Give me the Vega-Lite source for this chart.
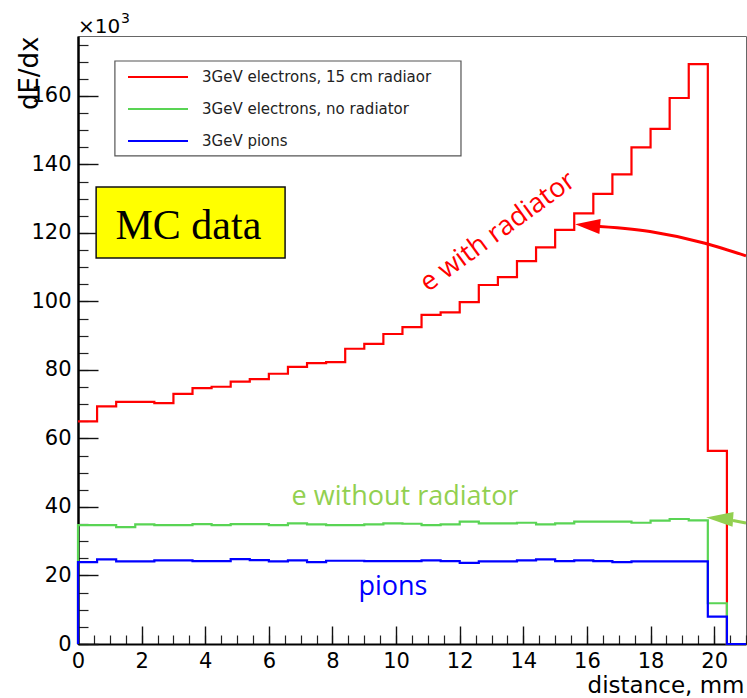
{
  "$schema": "https://vega.github.io/schema/vega-lite/v6.json",
  "width": 668,
  "height": 608,
  "autosize": {"type": "none"},
  "padding": {"left": 78, "top": 36, "right": 1, "bottom": 54},
  "background": "white",
  "config": {
    "view": {"stroke": "#666", "strokeWidth": 1},
    "font": "DejaVu Sans",
    "axis": {"grid": false}
  },
  "datasets": {
    "hist": [
      {"i": -1, "x": 0, "red": null, "green": 0, "blue": 0},
      {"i": 0, "x": 0, "red": 65.0, "green": 34.7, "blue": 23.9},
      {"i": 1, "x": 0.6, "red": 69.4, "green": 34.7, "blue": 24.7},
      {"i": 2, "x": 1.2, "red": 70.7, "green": 34.1, "blue": 24.1},
      {"i": 3, "x": 1.8, "red": 70.7, "green": 34.9, "blue": 24.1},
      {"i": 4, "x": 2.4, "red": 70.3, "green": 34.7, "blue": 24.4},
      {"i": 5, "x": 3.0, "red": 73.0, "green": 34.7, "blue": 24.4},
      {"i": 6, "x": 3.6, "red": 74.7, "green": 35.0, "blue": 24.2},
      {"i": 7, "x": 4.2, "red": 75.1, "green": 34.7, "blue": 24.2},
      {"i": 8, "x": 4.8, "red": 76.6, "green": 35.0, "blue": 24.8},
      {"i": 9, "x": 5.4, "red": 77.3, "green": 35.0, "blue": 24.5},
      {"i": 10, "x": 6.0, "red": 78.9, "green": 34.7, "blue": 24.1},
      {"i": 11, "x": 6.6, "red": 80.9, "green": 35.2, "blue": 24.4},
      {"i": 12, "x": 7.2, "red": 82.0, "green": 34.9, "blue": 23.9},
      {"i": 13, "x": 7.8, "red": 82.3, "green": 34.7, "blue": 24.3},
      {"i": 14, "x": 8.4, "red": 86.2, "green": 34.7, "blue": 24.3},
      {"i": 15, "x": 9.0, "red": 87.6, "green": 34.9, "blue": 24.2},
      {"i": 16, "x": 9.6, "red": 90.5, "green": 35.2, "blue": 24.2},
      {"i": 17, "x": 10.2, "red": 92.5, "green": 35.1, "blue": 24.2},
      {"i": 18, "x": 10.8, "red": 96.1, "green": 34.7, "blue": 24.4},
      {"i": 19, "x": 11.4, "red": 96.8, "green": 34.9, "blue": 24.2},
      {"i": 20, "x": 12.0, "red": 99.8, "green": 35.7, "blue": 23.7},
      {"i": 21, "x": 12.6, "red": 104.8, "green": 35.2, "blue": 24.1},
      {"i": 22, "x": 13.2, "red": 107.1, "green": 35.2, "blue": 24.1},
      {"i": 23, "x": 13.8, "red": 111.8, "green": 35.4, "blue": 24.4},
      {"i": 24, "x": 14.4, "red": 115.8, "green": 34.9, "blue": 24.7},
      {"i": 25, "x": 15.0, "red": 120.9, "green": 35.2, "blue": 24.2},
      {"i": 26, "x": 15.6, "red": 125.7, "green": 35.7, "blue": 24.4},
      {"i": 27, "x": 16.2, "red": 131.4, "green": 35.7, "blue": 24.2},
      {"i": 28, "x": 16.8, "red": 137.1, "green": 35.7, "blue": 23.9},
      {"i": 29, "x": 17.4, "red": 145.0, "green": 35.4, "blue": 24.1},
      {"i": 30, "x": 18.0, "red": 150.4, "green": 36.0, "blue": 24.1},
      {"i": 31, "x": 18.6, "red": 159.4, "green": 36.5, "blue": 24.1},
      {"i": 32, "x": 19.2, "red": 169.3, "green": 36.1, "blue": 24.1},
      {"i": 33, "x": 19.8, "red": 56.4, "green": 11.9, "blue": 8.0},
      {"i": 34, "x": 20.4, "red": 0, "green": 0, "blue": 0},
      {"i": 35, "x": 21.0, "red": 0, "green": 0, "blue": 0}
    ],
    "redArrow": [
      {"x": 16.1, "y": 122.1},
      {"x": 17.98, "y": 120.4},
      {"x": 19.71, "y": 117.0},
      {"x": 21.0, "y": 113.3}
    ],
    "greenArrow": [
      {"x": 20.59, "y": 36.05},
      {"x": 21.0, "y": 35.3}
    ],
    "one": [{}]
  },
  "resolve": {
    "scale": {"x": "shared", "y": "shared"},
    "axis": {"x": "independent", "y": "independent"}
  },
  "layer": [
    {
      "data": {"name": "one"},
      "mark": {"type": "rect", "fill": "white", "stroke": "#555", "strokeWidth": 1.2},
      "encoding": {
        "x": {"datum": 1.16, "type": "quantitative", "scale": {"domain": [0, 21], "nice": false, "zero": false},
              "axis": {"orient": "bottom", "values": [0,0.5,1,1.5,2,2.5,3,3.5,4,4.5,5,5.5,6,6.5,7,7.5,8,8.5,9,9.5,10,10.5,11,11.5,12,12.5,13,13.5,14,14.5,15,15.5,16,16.5,17,17.5,18,18.5,19,19.5,20,20.5,21],
                       "labels": false, "domain": false, "ticks": true, "tickSize": -9, "tickColor": "#222", "tickWidth": 1.2, "title": null, "grid": false}},
        "x2": {"datum": 12.04},
        "y": {"datum": 170.2, "type": "quantitative", "scale": {"domain": [0, 177.5], "nice": false, "zero": false},
              "axis": {"orient": "left", "values": [0,5,10,15,20,25,30,35,40,45,50,55,60,65,70,75,80,85,90,95,100,105,110,115,120,125,130,135,140,145,150,155,160,165,170,175],
                       "labels": false, "domain": false, "ticks": true, "tickSize": -10, "tickColor": "#222", "tickWidth": 1.2, "title": null, "grid": false}},
        "y2": {"datum": 142.5}
      }
    },
    {
      "data": {"name": "one"},
      "mark": {"type": "rect", "fill": "#ffff00", "stroke": "#111", "strokeWidth": 1.5},
      "encoding": {
        "x": {"datum": 0.57, "type": "quantitative",
              "axis": {"orient": "bottom", "values": [0,2,4,6,8,10,12,14,16,18,20], "labels": false, "domain": false, "ticks": true, "tickSize": -18, "tickColor": "#111", "tickWidth": 1.4, "title": null, "grid": false}},
        "x2": {"datum": 6.51},
        "y": {"datum": 133.4, "type": "quantitative",
              "axis": {"orient": "left", "values": [0,20,40,60,80,100,120,140,160], "labels": false, "domain": false, "ticks": true, "tickSize": -20, "tickColor": "#111", "tickWidth": 1.4, "title": null, "grid": false}},
        "y2": {"datum": 112.7}
      }
    },
    {
      "data": {"name": "hist"},
      "transform": [{"fold": ["red", "green", "blue"], "as": ["series", "v"]}],
      "mark": {"type": "line", "interpolate": "step-after", "strokeWidth": 2.2},
      "encoding": {
        "x": {"field": "x", "type": "quantitative",
              "axis": {"orient": "bottom", "values": [0,2,4,6,8,10,12,14,16,18,20], "ticks": false, "domain": true, "domainColor": "#000", "domainWidth": 2,
                       "labels": true, "labelFont": "DejaVu Sans", "labelFontSize": 21, "labelColor": "#000", "labelPadding": 6, "labelFlush": false, "labelOverlap": false,
                       "title": "distance, mm", "titleFont": "DejaVu Sans", "titleFontSize": 23, "titleFontWeight": "normal", "titleColor": "#000",
                       "titleAlign": "right", "titleBaseline": "alphabetic", "titleX": 666, "titleY": 48, "grid": false}},
        "y": {"field": "v", "type": "quantitative",
              "axis": {"orient": "left", "values": [0,20,40,60,80,100,120,140,160], "ticks": false, "domain": true, "domainColor": "#000", "domainWidth": 2.5,
                       "labels": true, "labelFont": "DejaVu Sans", "labelFontSize": 21, "labelColor": "#000", "labelPadding": 7, "labelFlush": false, "labelOverlap": false,
                       "title": "dE/dx", "titleFont": "DejaVu Sans", "titleFontSize": 26, "titleFontWeight": "normal", "titleColor": "#000",
                       "titleAngle": 270, "titleAlign": "right", "titleBaseline": "alphabetic", "titleX": -41, "titleY": 0, "grid": false}},
        "color": {"field": "series", "type": "nominal",
                  "scale": {"domain": ["red", "green", "blue"], "range": ["#ff0000", "#59d454", "#0000ff"]},
                  "legend": {"orient": "none", "legendX": 71.5, "legendY": 32.5, "title": null,
                             "symbolType": "M-4,0H4", "symbolSize": 225, "symbolStrokeWidth": 2,
                             "labelFont": "DejaVu Sans", "labelFontSize": 15, "labelColor": "#222", "labelOffset": 35.5, "labelLimit": 400,
                             "rowPadding": 15,
                             "labelExpr": "datum.label == 'red' ? '3GeV electrons, 15 cm radiaor' : datum.label == 'green' ? '3GeV electrons, no radiator' : '3GeV pions'"}},
        "order": {"field": "i", "type": "quantitative"}
      }
    },
    {
      "data": {"name": "redArrow"},
      "mark": {"type": "line", "interpolate": "monotone", "stroke": "#ff0000", "strokeWidth": 3},
      "encoding": {
        "x": {"field": "x", "type": "quantitative", "axis": null},
        "y": {"field": "y", "type": "quantitative", "axis": null}
      }
    },
    {
      "data": {"name": "one"},
      "mark": {"type": "point", "shape": "M-1,0L1,-0.6L1,0.6Z", "size": 625, "filled": true, "fill": "#ff0000", "opacity": 1, "angle": 5, "strokeWidth": 0},
      "encoding": {
        "x": {"datum": 16.02, "type": "quantitative", "axis": null},
        "y": {"datum": 122.2, "type": "quantitative", "axis": null}
      }
    },
    {
      "data": {"name": "greenArrow"},
      "mark": {"type": "line", "stroke": "#92d050", "strokeWidth": 3},
      "encoding": {
        "x": {"field": "x", "type": "quantitative", "axis": null},
        "y": {"field": "y", "type": "quantitative", "axis": null}
      }
    },
    {
      "data": {"name": "one"},
      "mark": {"type": "point", "shape": "M-1,0L1,-0.55L1,0.55Z", "size": 729, "filled": true, "fill": "#92d050", "opacity": 1, "angle": 4, "strokeWidth": 0},
      "encoding": {
        "x": {"datum": 20.17, "type": "quantitative", "axis": null},
        "y": {"datum": 36.64, "type": "quantitative", "axis": null}
      }
    },
    {
      "data": {"name": "one"},
      "mark": {"type": "text", "text": "MC data", "font": "Liberation Serif", "fontSize": 42, "align": "center", "baseline": "alphabetic", "fill": "#000"},
      "encoding": {
        "x": {"datum": 3.47, "type": "quantitative", "axis": null},
        "y": {"datum": 118.3, "type": "quantitative", "axis": null}
      }
    },
    {
      "data": {"name": "one"},
      "mark": {"type": "text", "text": "e with radiator", "font": "Open Sans", "fontSize": 27, "align": "center", "baseline": "middle", "angle": 324, "fill": "#ff0000"},
      "encoding": {
        "x": {"datum": 13.2, "type": "quantitative", "axis": null},
        "y": {"datum": 120.3, "type": "quantitative", "axis": null}
      }
    },
    {
      "data": {"name": "one"},
      "mark": {"type": "text", "text": "e without radiator", "font": "Open Sans", "fontSize": 27, "align": "center", "baseline": "alphabetic", "fill": "#92d050"},
      "encoding": {
        "x": {"datum": 10.28, "type": "quantitative", "axis": null},
        "y": {"datum": 40.6, "type": "quantitative", "axis": null}
      }
    },
    {
      "data": {"name": "one"},
      "mark": {"type": "text", "text": "pions", "font": "Open Sans", "fontSize": 27, "align": "center", "baseline": "alphabetic", "fill": "#0000ff"},
      "encoding": {
        "x": {"datum": 9.9, "type": "quantitative", "axis": null},
        "y": {"datum": 14.3, "type": "quantitative", "axis": null}
      }
    },
    {
      "data": {"name": "one"},
      "mark": {"type": "text", "text": "×10", "font": "DejaVu Sans", "fontSize": 20, "align": "left", "baseline": "alphabetic", "fill": "#000"},
      "encoding": {
        "x": {"datum": 0, "type": "quantitative", "axis": null},
        "y": {"datum": 178.4, "type": "quantitative", "axis": null}
      }
    },
    {
      "data": {"name": "one"},
      "mark": {"type": "text", "text": "3", "font": "DejaVu Sans", "fontSize": 14, "align": "left", "baseline": "alphabetic", "fill": "#000"},
      "encoding": {
        "x": {"datum": 1.35, "type": "quantitative", "axis": null},
        "y": {"datum": 181.2, "type": "quantitative", "axis": null}
      }
    }
  ]
}
